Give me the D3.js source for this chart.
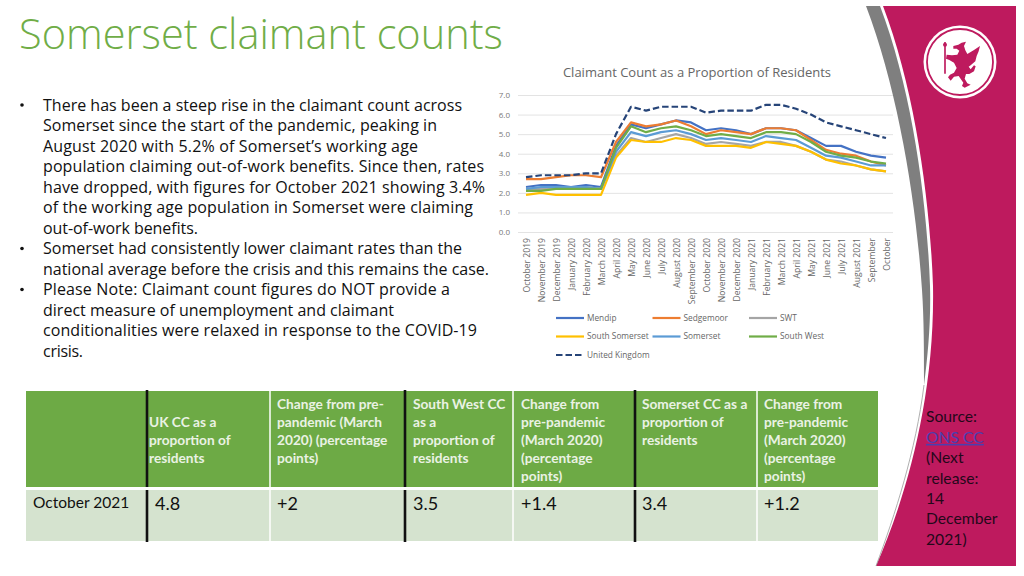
<!DOCTYPE html>
<html>
<head>
<meta charset="utf-8">
<script src="https://cdnjs.cloudflare.com/ajax/libs/d3/7.8.5/d3.min.js"></script>
<style>
    html, body { margin: 0; padding: 0; background: #fff; }
    svg { display: block; }
</style>
</head>
<body>
<svg id="slide" width="1024" height="576"></svg>
<script>
const months = ["October 2019", "November 2019", "December 2019", "January 2020", "February 2020", "March 2020",
    "April 2020", "May 2020", "June 2020", "July 2020", "August 2020", "September 2020", "October 2020",
    "November 2020", "December 2020", "January 2021", "February 2021", "March 2021", "April 2021", "May 2021",
    "June 2021", "July 2021", "August 2021", "September", "October"];

const mendip = [2.3, 2.4, 2.4, 2.3, 2.4, 2.3, 4.4, 5.5, 5.3, 5.5, 5.7, 5.6, 5.2, 5.3, 5.2, 5.0, 5.3, 5.3, 5.2, 4.8, 4.4, 4.4, 4.1, 3.9, 3.8];
const sedgemoor = [2.7, 2.7, 2.8, 2.9, 2.9, 2.8, 4.6, 5.6, 5.4, 5.5, 5.7, 5.4, 5.0, 5.2, 5.1, 5.0, 5.3, 5.3, 5.2, 4.7, 4.2, 4.0, 3.9, 3.6, 3.4];
const swt = [2.2, 2.2, 2.2, 2.2, 2.3, 2.2, 3.9, 4.8, 4.6, 4.8, 5.0, 4.8, 4.5, 4.6, 4.5, 4.4, 4.6, 4.6, 4.4, 4.1, 3.7, 3.6, 3.4, 3.2, 3.1];
const southSomerset = [1.9, 2.0, 1.9, 1.9, 1.9, 1.9, 3.8, 4.7, 4.6, 4.6, 4.8, 4.7, 4.4, 4.4, 4.4, 4.3, 4.6, 4.5, 4.4, 4.1, 3.7, 3.5, 3.4, 3.2, 3.1];
const somerset = [2.2, 2.3, 2.3, 2.3, 2.3, 2.2, 4.1, 5.1, 4.9, 5.1, 5.2, 5.0, 4.7, 4.8, 4.7, 4.6, 4.9, 4.8, 4.7, 4.3, 3.9, 3.8, 3.6, 3.4, 3.4];
const southWest = [2.1, 2.1, 2.2, 2.2, 2.2, 2.2, 4.3, 5.4, 5.1, 5.3, 5.4, 5.2, 4.9, 5.0, 4.9, 4.8, 5.1, 5.1, 5.0, 4.6, 4.1, 3.9, 3.8, 3.6, 3.5];
const unitedKingdom = [2.8, 2.9, 2.9, 2.9, 3.0, 3.0, 5.0, 6.4, 6.2, 6.4, 6.4, 6.4, 6.1, 6.2, 6.2, 6.2, 6.5, 6.5, 6.3, 6.0, 5.6, 5.4, 5.2, 5.0, 4.8];

const seriesNames = ["Mendip", "Sedgemoor", "SWT", "South Somerset", "Somerset", "South West", "United Kingdom"];
const seriesValues = [mendip, sedgemoor, swt, southSomerset, somerset, southWest, unitedKingdom];
const seriesColors = ["#4472C4", "#ED7D31", "#A5A5A5", "#FFC000", "#5B9BD5", "#70AD47", "#264478"];
const yTicks = [0, 1, 2, 3, 4, 5, 6, 7];

const bullets = [
    ["There has been a steep rise in the claimant count across",
     "Somerset since the start of the pandemic, peaking in",
     "August 2020 with 5.2% of Somerset\u2019s working age",
     "population claiming out-of-work benefits. Since then, rates",
     "have dropped, with figures for October 2021 showing 3.4%",
     "of the working age population in Somerset were claiming",
     "out-of-work benefits."],
    ["Somerset had consistently lower claimant rates than the",
     "national average before the crisis and this remains the case."],
    ["Please Note: Claimant count figures do NOT provide a",
     "direct measure of unemployment and claimant",
     "conditionalities were relaxed in response to the COVID-19",
     "crisis."]
];
// where each line of the bullet text stops, the fonts differ a bit
const bulletLineEnds = [462, 437, 418, 484, 485, 473, 198, 462, 489, 450, 394, 477, 83];

const tableHeaders = [
    ["UK CC as a", "proportion of", "residents"],
    ["Change from pre-", "pandemic (March", "2020) (percentage", "points)"],
    ["South West CC", "as a", "proportion of", "residents"],
    ["Change from", "pre-pandemic", "(March 2020)", "(percentage", "points)"],
    ["Somerset CC as a", "proportion of", "residents"],
    ["Change from", "pre-pandemic", "(March 2020)", "(percentage", "points)"]
];
const tableRowLabel = "October 2021";
const tableValues = ["4.8", "+2", "3.5", "+1.4", "3.4", "+1.2"];
const sourceLines = ["Source:", "ONS CC", "(Next", "release:", "14", "December", "2021)"];

const svg = d3.select("#slide");
const bodyFont = "'Open Sans', sans-serif";
const tableFont = "Lato, sans-serif";
const magenta = "#BE1A5E";

// side banner
svg.append("path")
    .attr("d", "M866,6 L880,6 C912,90 927,200 930,286 C931,320 928,355 924,385 C924,350 924,320 922,290 C916,200 898,90 866,6 Z")
    .attr("fill", "#7F7F7F");
svg.append("path")
    .attr("d", "M883,6 L1016,6 L1016,566 L876,566 C905,500 935,400 933,286 C930,200 915,90 883,6 Z")
    .attr("fill", magenta);
svg.append("path")
    .attr("d", "M924,385 C916,450 895,515 876,566")
    .attr("fill", "none")
    .attr("stroke", "#9a9a9a")
    .attr("stroke-width", 0.8);

// logo
const logo = svg.append("g");
logo.append("circle").attr("cx", 960).attr("cy", 62).attr("r", 36.5).attr("fill", "#fff");
logo.append("circle").attr("cx", 960).attr("cy", 62).attr("r", 33).attr("fill", "none")
    .attr("stroke", magenta).attr("stroke-width", 1.8);
const dragon = logo.append("g").attr("transform", "translate(930,32) scale(0.3333)");
dragon.append("path")
    .attr("d", "M70 42 L85 38 L95 32 L108 29 L102 42 L106 55 L112 66 L132 54 L150 42 L146 58 L140 72 L136 88 L122 100 L116 104 L122 112 L132 100 L137 103 L132 118 L118 126 L108 126 L104 140 L112 154 L122 158 L104 167 L96 162 L100 152 L86 132 L72 134 L62 146 L54 136 L60 128 L72 122 L80 108 L72 92 L58 84 L48 80 L50 68 L66 70 L82 68 L88 56 L80 50 L70 50 Z")
    .attr("fill", magenta);
dragon.append("line").attr("x1", 45).attr("x2", 45).attr("y1", 30).attr("y2", 125)
    .attr("stroke", magenta).attr("stroke-width", 5);
dragon.append("circle").attr("cx", 45).attr("cy", 38).attr("r", 6).attr("fill", magenta);

// title
svg.append("text")
    .attr("x", 19).attr("y", 49)
    .attr("font-family", bodyFont)
    .attr("font-size", 41.5)
    .attr("font-weight", 300)
    .attr("fill", "#70AD47")
    .text("Somerset claimant counts");

// bullet text
const lineHeight = 20.5;
let lineNo = 0;
const bulletG = svg.append("g")
    .attr("font-family", bodyFont)
    .attr("font-size", 16)
    .attr("fill", "#111");
bullets.forEach(lines => {
    const y0 = 105 + lineNo * lineHeight;
    bulletG.append("circle").attr("cx", 22).attr("cy", y0).attr("r", 1.8).attr("fill", "#111");
    lines.forEach(t => {
        bulletG.append("text")
            .attr("x", 43)
            .attr("y", 105 + lineNo * lineHeight)
            .attr("dy", "0.35em")
            .attr("textLength", bulletLineEnds[lineNo] - 43)
            .text(t);
        lineNo++;
    });
});

// chart
const x = d3.scalePoint().domain(months).range([526, 886]);
const y = d3.scaleLinear().domain([0, 7]).range([232, 95]);

svg.append("text")
    .attr("x", 697).attr("y", 77)
    .attr("text-anchor", "middle")
    .attr("font-family", bodyFont)
    .attr("font-size", 13)
    .attr("fill", "#666")
    .text("Claimant Count as a Proportion of Residents");

const yAxis = svg.append("g")
    .attr("transform", "translate(518,0)")
    .call(d3.axisLeft(y).tickValues(yTicks).tickFormat(d3.format(".1f")).tickSize(-375).tickPadding(8));
yAxis.select(".domain").remove();
yAxis.selectAll(".tick line").attr("stroke", "#E3E3E3").attr("stroke-width", 1);
yAxis.selectAll(".tick text")
    .attr("font-family", bodyFont).attr("font-size", 8).attr("fill", "#777");

const xAxis = svg.append("g")
    .attr("transform", "translate(0,232)")
    .call(d3.axisBottom(x).tickSize(0));
xAxis.select(".domain").remove();
xAxis.selectAll(".tick text")
    .attr("font-family", bodyFont)
    .attr("font-size", 8.6)
    .attr("fill", "#666")
    .attr("text-anchor", "end")
    .attr("transform", "rotate(-90)")
    .attr("x", -6)
    .attr("y", 0)
    .attr("dy", "0.35em");

const line = d3.line().x((d, i) => x(months[i])).y(d => y(d));
seriesValues.forEach((vals, i) => {
    svg.append("path")
        .datum(vals)
        .attr("d", line)
        .attr("fill", "none")
        .attr("stroke", seriesColors[i])
        .attr("stroke-width", 2.2)
        .attr("stroke-linejoin", "round")
        .attr("stroke-dasharray", seriesNames[i] === "United Kingdom" ? "6.5,3" : null);
});

// legend
const legendX = d3.scalePoint().domain([0, 1, 2]).range([556, 749]);
const legendY = d3.scalePoint().domain([0, 1, 2]).range([318, 355]);
seriesNames.forEach((name, i) => {
    const g = svg.append("g")
        .attr("transform", `translate(${legendX(i % 3)},${legendY(Math.floor(i / 3))})`);
    g.append("line")
        .attr("x1", 0).attr("x2", 28)
        .attr("stroke", seriesColors[i])
        .attr("stroke-width", 2.2)
        .attr("stroke-dasharray", name === "United Kingdom" ? "6.5,3" : null);
    g.append("text")
        .attr("x", 31)
        .attr("dy", "0.35em")
        .attr("font-family", bodyFont)
        .attr("font-size", 8.3)
        .attr("fill", "#666")
        .text(name);
});

// table
const colEdges = [26, 147, 270, 405, 513, 635, 757, 878];
const headTop = 391, headBottom = 487, rowTop = 490, rowBottom = 541;
const blackEdges = [147, 405, 635];

colEdges.slice(0, -1).forEach((x0, i) => {
    const w = colEdges[i + 1] - x0;
    svg.append("rect").attr("x", x0).attr("y", headTop).attr("width", w).attr("height", headBottom - headTop)
        .attr("fill", "#6DAA45");
    svg.append("rect").attr("x", x0).attr("y", rowTop).attr("width", w).attr("height", rowBottom - rowTop)
        .attr("fill", "#D5E3CF");
});
colEdges.slice(1, -1).filter(e => !blackEdges.includes(e)).forEach(xe => {
    svg.append("line").attr("x1", xe).attr("x2", xe).attr("y1", headTop).attr("y2", rowBottom)
        .attr("stroke", "#fff").attr("stroke-width", 1.5);
});
blackEdges.forEach(xe => {
    [[headTop - 1, headBottom], [rowTop, rowBottom + 1]].forEach(seg => {
        svg.append("line").attr("x1", xe).attr("x2", xe).attr("y1", seg[0]).attr("y2", seg[1])
            .attr("stroke", "#111").attr("stroke-width", 2.6);
    });
});

const headerTextX = [149, 277, 413, 521, 642, 764];
tableHeaders.forEach((lines, c) => {
    lines.forEach((t, i) => {
        svg.append("text")
            .attr("x", headerTextX[c])
            .attr("y", (c === 0 ? 422 : 404) + i * 18)
            .attr("dy", "0.35em")
            .attr("font-family", tableFont)
            .attr("font-size", 13.7)
            .attr("font-weight", 700)
            .attr("fill", "#EAF2E4")
            .text(t);
    });
});
svg.append("text")
    .attr("x", 33).attr("y", 503).attr("dy", "0.35em")
    .attr("font-family", tableFont).attr("font-size", 15.5).attr("fill", "#111")
    .text(tableRowLabel);
tableValues.forEach((v, c) => {
    svg.append("text")
        .attr("x", c === 0 ? 155 : headerTextX[c])
        .attr("y", 504).attr("dy", "0.35em")
        .attr("font-family", tableFont).attr("font-size", 18).attr("fill", "#111")
        .text(v);
});

// source
sourceLines.forEach((t, i) => {
    svg.append("text")
        .attr("x", 926)
        .attr("y", 417 + i * 20.4)
        .attr("dy", "0.35em")
        .attr("font-family", tableFont)
        .attr("font-size", 15.7)
        .attr("fill", t === "ONS CC" ? "#4A3FB0" : "#24081a")
        .attr("text-decoration", t === "ONS CC" ? "underline" : null)
        .text(t);
});
</script>
</body>
</html>
